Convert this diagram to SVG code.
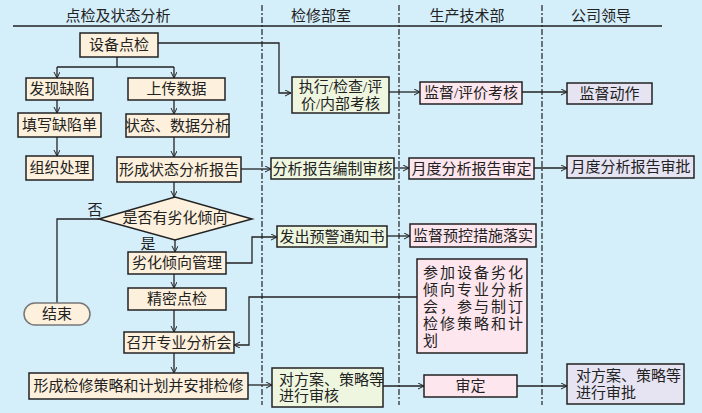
<svg xmlns="http://www.w3.org/2000/svg" width="702" height="413" viewBox="0 0 702 413">
<defs>
<marker id="arr" markerWidth="8" markerHeight="8" refX="6" refY="3" orient="auto" markerUnits="userSpaceOnUse">
<path d="M0,0 L6,3 L0,6" fill="none" stroke="#222" stroke-width="1"/>
</marker>
<style>
text{font-family:"Liberation Serif","Noto Sans CJK SC",serif;font-size:15px;fill:#222;dominant-baseline:central}
.c{text-anchor:middle}
.box{stroke:#222;stroke-width:1.5}
.a{fill:#fdf0dc}
.g{fill:#eef6e0}
.p{fill:#fde6ee}
.l{fill:#e6e4f2}
.ln{fill:none;stroke:#222;stroke-width:1.3}
.la{marker-end:url(#arr)}
.dash{stroke:#222;stroke-width:1.2;stroke-dasharray:6 2 2 2}
</style>
</defs>
<rect width="702" height="413" fill="#d4eefa"/>
<g id="lanes">
<line x1="13" y1="26" x2="662" y2="26" stroke="#222" stroke-width="1.3"/>
<line class="dash" x1="262" y1="5" x2="262" y2="405"/>
<line class="dash" x1="399" y1="5" x2="399" y2="405"/>
<line class="dash" x1="542" y1="5" x2="542" y2="405"/>
<text class="c" x="118" y="16">点检及状态分析</text>
<text class="c" x="321" y="16">检修部室</text>
<text class="c" x="467" y="16">生产技术部</text>
<text class="c" x="601" y="16">公司领导</text>
</g>
<g id="connectors">
<path class="ln la" d="M158,43 H279 V93 H291"/>
<path class="ln" d="M117,57 V67 M57,67 H174"/>
<path class="ln la" d="M57,67 V78"/>
<path class="ln la" d="M174,67 V78"/>
<path class="ln la" d="M57,100 V113"/>
<path class="ln la" d="M57,137 V156"/>
<path class="ln la" d="M174,100 V114"/>
<path class="ln la" d="M174,137 V157"/>
<path class="ln la" d="M241,169 H271"/>
<path class="ln la" d="M394,168 H409"/>
<path class="ln la" d="M534,168 H567"/>
<path class="ln la" d="M389,92 H420"/>
<path class="ln la" d="M522,92 H567"/>
<path class="ln la" d="M174,182 V197"/>
<path class="ln" d="M99,219 H57 V303"/>
<path class="ln la" d="M175,240 V252"/>
<path class="ln la" d="M226,263 H252 V237 H277"/>
<path class="ln la" d="M387,236 H410"/>
<path class="ln la" d="M174,274 V288"/>
<path class="ln la" d="M174,310 V332"/>
<path class="ln la" d="M417,297 H249 V345 H234"/>
<path class="ln la" d="M174,353 V373"/>
<path class="ln la" d="M248,385 H272"/>
<path class="ln la" d="M383,386 H424"/>
<path class="ln la" d="M517,386 H567"/>
<text x="95" y="210" class="c">否</text>
<text x="148" y="244" class="c">是</text>
</g>
<g id="n1"><rect class="box a" x="80" y="33" width="78" height="24"/><text class="c" x="119" y="45">设备点检</text></g>
<g id="n2"><rect class="box a" x="26" y="78" width="67" height="22"/><text class="c" x="59.5" y="89">发现缺陷</text></g>
<g id="n3"><rect class="box a" x="18" y="113" width="83" height="24"/><text class="c" x="59.5" y="125">填写缺陷单</text></g>
<g id="n4"><rect class="box a" x="26" y="156" width="67" height="24"/><text class="c" x="59.5" y="168">组织处理</text></g>
<g id="n5"><rect class="box a" x="128" y="78" width="97" height="22"/><text class="c" x="176.5" y="89">上传数据</text></g>
<g id="n6"><rect class="box a" x="126" y="114" width="103" height="23"/><text class="c" x="177.5" y="125.5">状态、数据分析</text></g>
<g id="n7"><rect class="box a" x="117" y="157" width="124" height="25"/><text class="c" x="179" y="169.5">形成状态分析报告</text></g>
<g id="n8"><polygon class="box a" points="99,219 175,197 252,219 175,240"/><text class="c" x="175" y="218">是否有劣化倾向</text></g>
<g id="n9"><rect class="box a" x="24" y="303" width="66" height="22" rx="11" ry="11" style="stroke:#777"/><text class="c" x="57" y="314">结束</text></g>
<g id="n10"><rect class="box a" x="128" y="252" width="98" height="22"/><text class="c" x="177" y="263">劣化倾向管理</text></g>
<g id="n11"><rect class="box a" x="128" y="288" width="98" height="22"/><text class="c" x="177" y="299">精密点检</text></g>
<g id="n12"><rect class="box a" x="124" y="332" width="110" height="21"/><text class="c" x="179" y="342.5">召开专业分析会</text></g>
<g id="n13"><rect class="box a" x="29" y="373" width="219" height="26"/><text class="c" x="138.5" y="386">形成检修策略和计划并安排检修</text></g>
<g id="n14"><rect class="box g" x="292" y="77" width="97" height="36"/><text class="c" x="340.5" y="87">执行/检查/评</text><text class="c" x="340.5" y="104">价/内部考核</text></g>
<g id="n15"><rect class="box p" x="420" y="82" width="102" height="22"/><text class="c" x="471" y="93">监督/评价考核</text></g>
<g id="n16"><rect class="box l" x="567" y="83" width="85" height="21"/><text class="c" x="609.5" y="93.5">监督动作</text></g>
<g id="n17"><rect class="box g" x="271" y="158" width="123" height="21"/><text class="c" x="332.5" y="168.5">分析报告编制审核</text></g>
<g id="n18"><rect class="box p" x="409" y="158" width="125" height="21"/><text class="c" x="471.5" y="168.5">月度分析报告审定</text></g>
<g id="n19"><rect class="box l" x="567" y="156" width="127" height="22"/><text class="c" x="630.5" y="167">月度分析报告审批</text></g>
<g id="n20"><rect class="box g" x="277" y="226" width="110" height="21"/><text class="c" x="332" y="236.5">发出预警通知书</text></g>
<g id="n21"><rect class="box p" x="410" y="224" width="126" height="23"/><text class="c" x="473" y="235.5">监督预控措施落实</text></g>
<g id="n22"><rect class="box p" x="417" y="259" width="110" height="94"/>
<text x="423" y="273" style="letter-spacing:2px">参加设备劣化</text>
<text x="423" y="290" style="letter-spacing:2px">倾向专业分析</text>
<text x="423" y="307" style="letter-spacing:2px">会，参与制订</text>
<text x="423" y="324" style="letter-spacing:2px">检修策略和计</text>
<text x="423" y="341">划</text></g>
<g id="n23"><rect class="box g" x="272" y="368" width="111" height="39"/><text x="279" y="380">对方案、策略等</text><text x="279" y="396">进行审核</text></g>
<g id="n24"><rect class="box p" x="424" y="375" width="93" height="22"/><text class="c" x="470.5" y="386">审定</text></g>
<g id="n25"><rect class="box l" x="567" y="364" width="117" height="40"/><text x="576" y="376">对方案、策略等</text><text x="576" y="393">进行审批</text></g>
</svg>
